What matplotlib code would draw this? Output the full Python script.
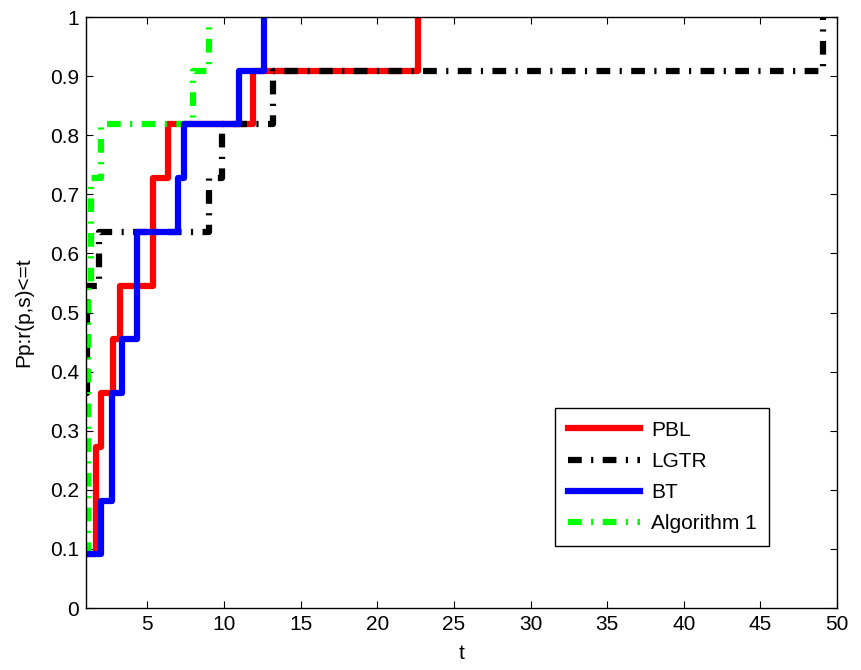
import numpy as np
import matplotlib
matplotlib.use("Agg")
import matplotlib.pyplot as plt

plt.rcParams['font.family'] = ['Liberation Sans', 'DejaVu Sans']

# step positions (t) and profile values (in elevenths)
t_pbl = [1, 1.63, 1.98, 2.77, 3.23, 5.37, 6.38, 11.9, 22.67]
n_pbl = [1, 3, 4, 5, 6, 8, 9, 10, 11]

t_lgtr = [1, 1.04, 1.85, 9.0, 9.84, 13.2, 49.1]
n_lgtr = [4, 6, 7, 8, 9, 10, 11]

t_bt = [1, 1.96, 2.69, 3.35, 4.32, 7.0, 7.36, 11.0, 12.6]
n_bt = [1, 2, 4, 5, 7, 8, 9, 10, 11]

t_alg = [1, 1.12, 1.3, 1.97, 7.99, 9.0]
n_alg = [1, 6, 8, 9, 10, 11]

n_prob = 11.0

fig = plt.figure(figsize=(8.62, 6.70), dpi=100)
ax = fig.add_axes([0.0998, 0.0925, 0.8713, 0.8821])

lw = 4.5
dashdot = (0, (2.2, 1.5, 0.35, 1.5))

l1, = ax.plot(t_pbl, np.array(n_pbl) / n_prob, color='#ff0000', lw=lw,
              drawstyle='steps-post', label='PBL')
l2, = ax.plot(t_lgtr, np.array(n_lgtr) / n_prob, color='black', lw=lw,
              linestyle=dashdot, drawstyle='steps-post', label='LGTR')
l4, = ax.plot(t_alg, np.array(n_alg) / n_prob, color='#00ff00', lw=lw,
              linestyle=dashdot, drawstyle='steps-post', label='Algorithm 1')
l3, = ax.plot(t_bt, np.array(n_bt) / n_prob, color='#0000ff', lw=lw,
              drawstyle='steps-post', label='BT')

ax.set_xlim(1, 50)
ax.set_ylim(0, 1)
ax.set_xticks(np.arange(5, 51, 5))
yt = np.round(np.arange(0, 1.01, 0.1), 1)
ax.set_yticks(yt)
ax.set_yticklabels(['0'] + ['%.1f' % v for v in yt[1:-1]] + ['1'])
ax.tick_params(direction='in', top=True, right=True, length=5, width=0.8,
               labelsize=15, pad=5)
for s in ax.spines.values():
    s.set_linewidth(1.0)

ax.set_xlabel('t', fontsize=15, labelpad=7)
ax.set_ylabel('Pp:r(p,s)<=t', fontsize=15, labelpad=12)

leg = ax.legend(handles=[l1, l2, l3, l4], loc='upper left',
                bbox_to_anchor=(0.6245, 0.338), borderaxespad=0,
                fontsize=15, handlelength=3.5, handletextpad=0.5,
                labelspacing=0.58, borderpad=0.6, fancybox=False,
                framealpha=1, edgecolor='black')
leg.get_frame().set_linewidth(1.0)

fig.savefig('out.png', dpi=100)
